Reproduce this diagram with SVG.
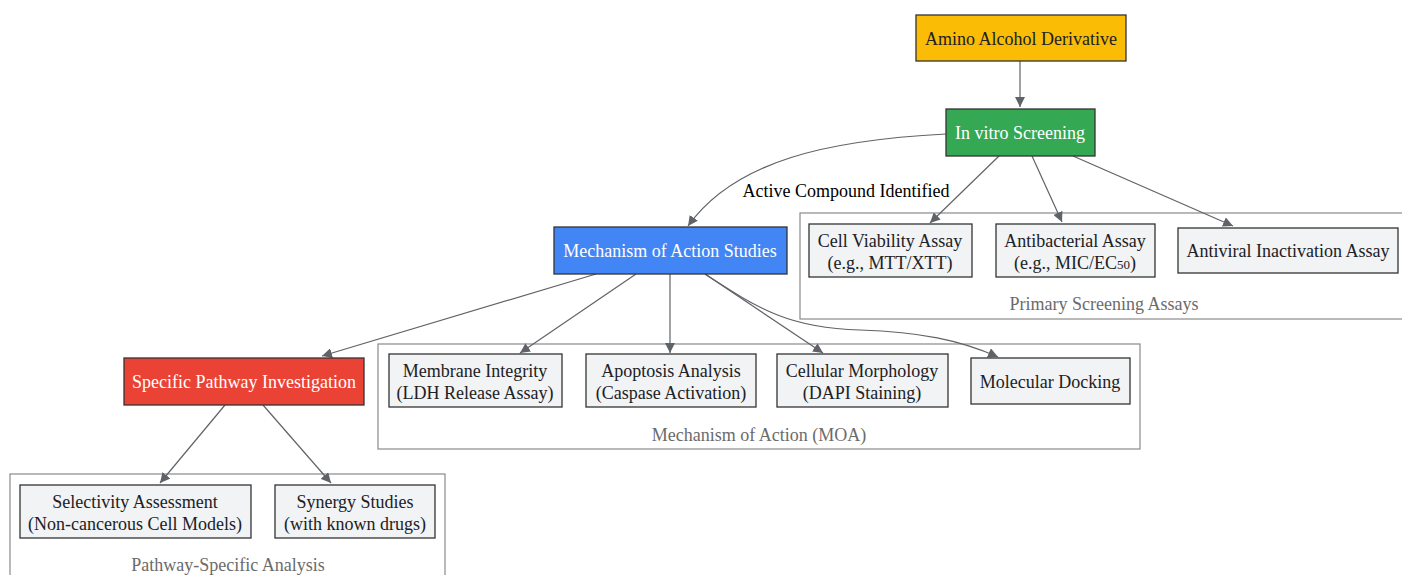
<svg xmlns="http://www.w3.org/2000/svg" width="1402" height="575" viewBox="0 0 1402 575">
<style>
text{font-family:"Liberation Serif","Times New Roman",serif;font-size:18px;text-anchor:middle}
.n{stroke:#333;stroke-width:1.3}
.lt{fill:#f1f3f4}
.d{fill:#202124}
.w{fill:#fff}
.cl{fill:none;stroke:#8a8a8a;stroke-width:1.2}
.cll{fill:#6b6b6b}
.e{fill:none;stroke:#5f6368;stroke-width:1.2}
</style>
<defs>
<marker id="ah" viewBox="0 0 10 10" refX="10" refY="5" markerWidth="10" markerHeight="10" markerUnits="userSpaceOnUse" orient="auto">
<path d="M0,0 L10,5 L0,10 z" fill="#5f6368"/>
</marker>
</defs>
<g id="clusters">
<g id="cluster_primary"><rect class="cl" x="800" y="213" width="610" height="106"/><text class="cll" x="1104" y="310">Primary Screening Assays</text></g>
<g id="cluster_moa"><rect class="cl" x="378" y="344" width="762" height="105"/><text class="cll" x="759" y="441">Mechanism of Action (MOA)</text></g>
<g id="cluster_pathway"><rect class="cl" x="10" y="474" width="435" height="110"/><text class="cll" x="228" y="571">Pathway-Specific Analysis</text></g>
</g>
<g id="edges">
<path class="e" d="M1020,61 L1020,107" marker-end="url(#ah)"/>
<path class="e" d="M946,134 C830,140 735,160 688,226" marker-end="url(#ah)"/>
<path class="e" d="M999,156 L930,223" marker-end="url(#ah)"/>
<path class="e" d="M1032,156 L1062,222" marker-end="url(#ah)"/>
<path class="e" d="M1073,156 L1233,226" marker-end="url(#ah)"/>
<path class="e" d="M596,274 L322,356" marker-end="url(#ah)"/>
<path class="e" d="M636,274 L520,353" marker-end="url(#ah)"/>
<path class="e" d="M670,274 L670,353" marker-end="url(#ah)"/>
<path class="e" d="M705,274 L823,353" marker-end="url(#ah)"/>
<path class="e" d="M705,274 C760,310 790,328 860,330 C920,332 960,340 998,357" marker-end="url(#ah)"/>
<path class="e" d="M225,405 L160,483" marker-end="url(#ah)"/>
<path class="e" d="M263,405 L331,483" marker-end="url(#ah)"/>
<text x="846" y="197" fill="#000">Active Compound Identified</text>
</g>
<g id="amino"><rect class="n" x="916" y="15" width="210" height="46" fill="#fbbc05"/><text class="d" x="1021" y="45">Amino Alcohol Derivative</text></g>
<g id="invitro"><rect class="n" x="946" y="109" width="149" height="47" fill="#34a853"/><text class="w" x="1020" y="139">In vitro Screening</text></g>
<g id="moa"><rect class="n" x="554" y="227" width="233" height="47" fill="#4285f4"/><text class="w" x="670" y="257">Mechanism of Action Studies</text></g>
<g id="specific"><rect class="n" x="124" y="358" width="240" height="47" fill="#ea4335"/><text class="w" x="244" y="388">Specific Pathway Investigation</text></g>
<g id="cellviability"><rect class="n lt" x="809" y="224" width="163" height="53"/><text class="d" x="890" y="247">Cell Viability Assay</text><text class="d" x="890" y="269">(e.g., MTT/XTT)</text></g>
<g id="antibacterial"><rect class="n lt" x="996" y="224" width="159" height="53"/><text class="d" x="1075" y="247">Antibacterial Assay</text><text class="d" x="1075" y="269">(e.g., MIC/EC<tspan font-size="13">50</tspan>)</text></g>
<g id="antiviral"><rect class="n lt" x="1178" y="228" width="220" height="45"/><text class="d" x="1288" y="257">Antiviral Inactivation Assay</text></g>
<g id="membrane"><rect class="n lt" x="389" y="354" width="173" height="53"/><text class="d" x="475" y="377">Membrane Integrity</text><text class="d" x="475" y="399">(LDH Release Assay)</text></g>
<g id="apoptosis"><rect class="n lt" x="586" y="354" width="170" height="53"/><text class="d" x="671" y="377">Apoptosis Analysis</text><text class="d" x="671" y="399">(Caspase Activation)</text></g>
<g id="morphology"><rect class="n lt" x="777" y="354" width="171" height="53"/><text class="d" x="862" y="377">Cellular Morphology</text><text class="d" x="862" y="399">(DAPI Staining)</text></g>
<g id="docking"><rect class="n lt" x="971" y="358" width="159" height="46"/><text class="d" x="1050" y="388">Molecular Docking</text></g>
<g id="selectivity"><rect class="n lt" x="20" y="485" width="231" height="53"/><text class="d" x="135" y="508">Selectivity Assessment</text><text class="d" x="135" y="530">(Non-cancerous Cell Models)</text></g>
<g id="synergy"><rect class="n lt" x="275" y="485" width="160" height="53"/><text class="d" x="355" y="508">Synergy Studies</text><text class="d" x="355" y="530">(with known drugs)</text></g>
</svg>
